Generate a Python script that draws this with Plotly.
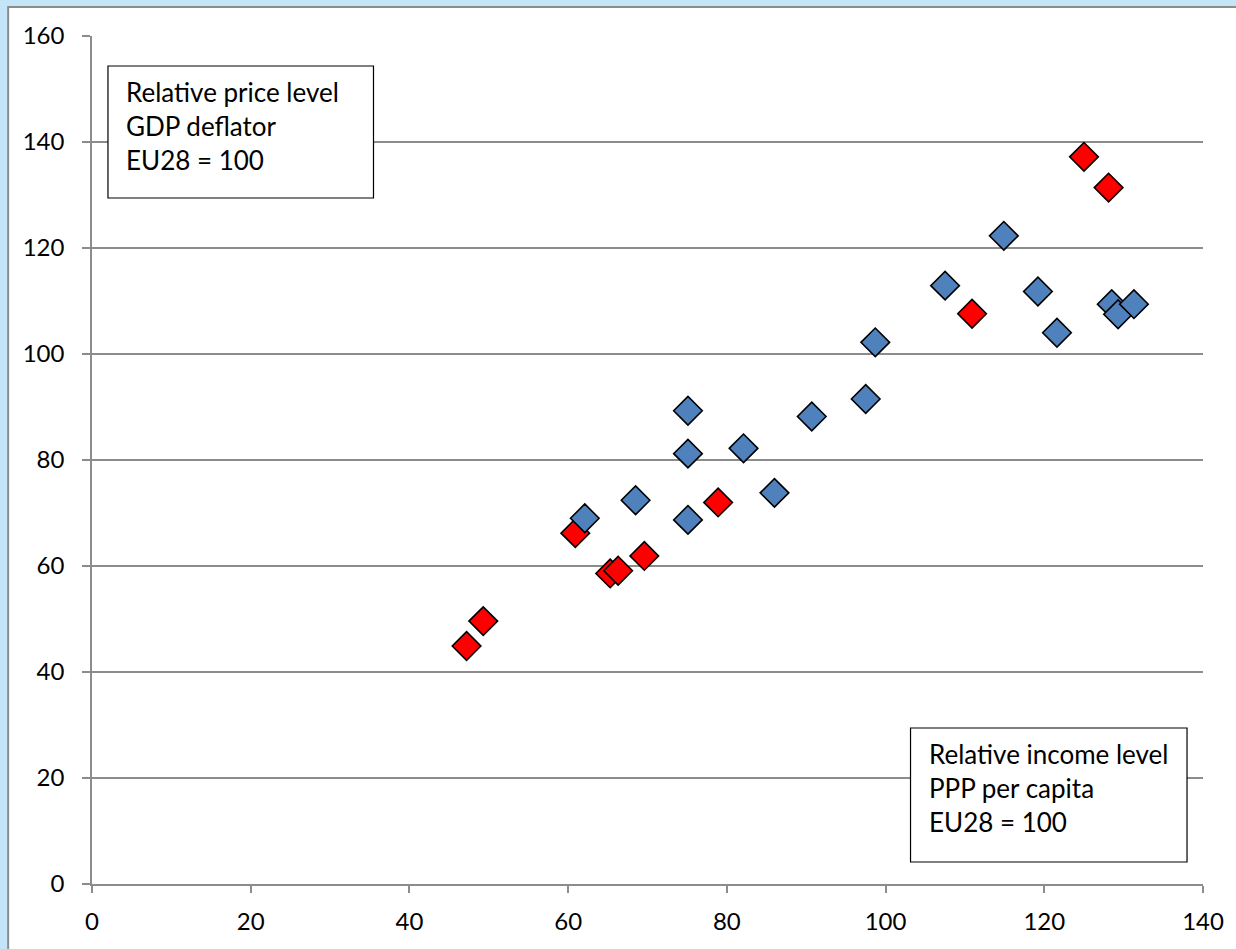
import plotly.graph_objects as go

# Relative income level (PPP per capita, EU28=100) vs relative price level (GDP deflator, EU28=100)
red_income = [47.2, 49.3, 60.9, 65.3, 66.3, 69.6, 78.9, 110.9, 125.0, 128.1]
red_price = [44.9, 49.6, 66.2, 58.6, 59.1, 61.9, 72.0, 107.6, 137.2, 131.4]

blue_income = [62.1, 68.5, 75.1, 75.1, 75.1, 82.1, 86.0, 90.7, 97.5, 98.7,
               107.5, 114.9, 119.2, 121.6, 128.5, 129.3, 131.3]
blue_price = [69.0, 72.4, 89.3, 81.2, 68.7, 82.2, 73.8, 88.2, 91.5, 102.2,
              112.9, 122.3, 111.8, 104.0, 109.4, 107.5, 109.4]

x_ticks = [0, 20, 40, 60, 80, 100, 120, 140]
y_ticks = [0, 20, 40, 60, 80, 100, 120, 140, 160]

W, H = 1236, 949
L, R, T, B = 92, 31, 36, 65
PW, PH = W - L - R, H - T - B


def px_x(p):
    return (p - L) / PW


def px_y(p):
    return (H - B - p) / PH


FONT = "Lato"
BG = "#c3e5f7"

fig = go.Figure()
marker_line = dict(color="black", width=1.6)
fig.add_trace(go.Scatter(x=red_income, y=red_price, mode="markers",
                         marker=dict(symbol="diamond", size=22, color="#ff0000", line=marker_line),
                         showlegend=False, hoverinfo="x+y"))
fig.add_trace(go.Scatter(x=blue_income, y=blue_price, mode="markers",
                         marker=dict(symbol="diamond", size=22, color="#4f81bd", line=marker_line),
                         showlegend=False, hoverinfo="x+y"))

shapes = [
    # white chart area with grey border
    dict(type="rect", xref="paper", yref="paper", layer="below",
         x0=px_x(8), x1=px_x(1245), y0=px_y(960), y1=px_y(7),
         fillcolor="white", line=dict(color="#8c8c8c", width=2)),
    # annotation boxes
    dict(type="rect", xref="paper", yref="paper",
         x0=px_x(108), x1=px_x(374), y0=px_y(198), y1=px_y(66),
         fillcolor="white", line=dict(color="black", width=1.2)),
    dict(type="rect", xref="paper", yref="paper",
         x0=px_x(912), x1=px_x(1189), y0=px_y(862), y1=px_y(728),
         fillcolor="white", line=dict(color="black", width=1.2)),
]

annotations = [
    dict(xref="paper", yref="paper", x=px_x(124), y=px_y(74), xanchor="left", yanchor="top",
         align="left", showarrow=False,
         text="Relative price level<br>GDP deflator<br>EU28 = 100",
         font=dict(family=FONT, size=26, color="black")),
    dict(xref="paper", yref="paper", x=px_x(929), y=px_y(736), xanchor="left", yanchor="top",
         align="left", showarrow=False,
         text="Relative income level<br>PPP per capita<br>EU28 = 100",
         font=dict(family=FONT, size=26, color="black")),
]

fig.update_layout(
    width=W, height=H,
    margin=dict(l=L, r=R, t=T, b=B),
    paper_bgcolor=BG,
    plot_bgcolor="white",
    shapes=shapes,
    annotations=annotations,
    font=dict(family=FONT, size=24, color="black"),
    xaxis=dict(range=[0, 140], tickvals=x_ticks, showgrid=False, zeroline=False,
               showline=True, linecolor="#8c8c8c", linewidth=1.5,
               ticks="outside", ticklen=7, tickcolor="#8c8c8c", tickwidth=1.5,
               ticklabelstandoff=8),
    yaxis=dict(range=[0, 160], tickvals=y_ticks, showgrid=True, gridcolor="#8c8c8c", gridwidth=1.5,
               zeroline=False, showline=True, linecolor="#8c8c8c", linewidth=1.5,
               ticks="outside", ticklen=8, tickcolor="#8c8c8c", tickwidth=1.5,
               ticklabelstandoff=13),
)

fig.write_html("out.html", config={"displayModeBar": False},
               post_script="document.body.style.margin='0';document.body.style.background='%s';" % BG)
